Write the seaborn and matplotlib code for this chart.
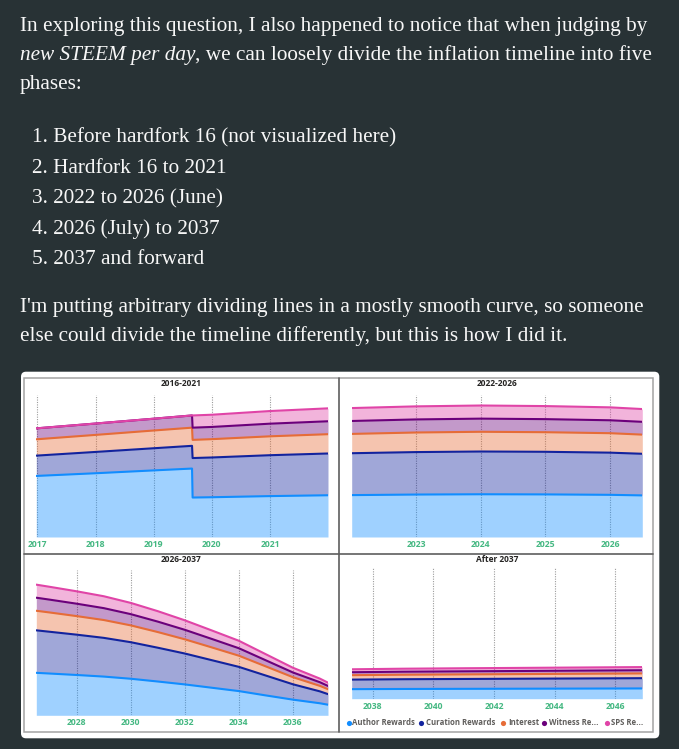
import numpy as np
import pandas as pd
import seaborn as sns
import matplotlib.pyplot as plt
from matplotlib.patches import FancyBboxPatch, Rectangle

sns.set_theme(style="white")
plt.rcParams['font.family'] = ['Open Sans', 'DejaVu Sans']

# ---- data (new STEEM per day, relative units) ----
series_names = ['Author Rewards', 'Curation Rewards', 'Interest', 'Witness Rewards', 'SPS Rewards']
legend_labels = ['Author Rewards', 'Curation Rewards', 'Interest', 'Witness Re...', 'SPS Re...']
line_colors = ['#118DFF', '#12239E', '#E66C37', '#6B007B', '#E044A7']

# 2016-2021 (HF21 step in Aug 2019)
years_a = [2016.98, 2018.0, 2019.0, 2019.66, 2019.67, 2020.0, 2021.0, 2022.0]
author_a = [43.0, 44.9, 46.9, 48.2, 27.8, 28.0, 28.8, 29.4]
curation_a = [14.3, 15.0, 15.6, 16.0, 27.8, 28.0, 28.8, 29.4]
interest_a = [11.5, 12.0, 12.5, 12.8, 12.8, 12.9, 13.3, 13.6]
witness_a = [7.7, 8.0, 8.3, 8.6, 8.6, 8.6, 8.9, 9.1]
sps_a = [0.0, 0.0, 0.0, 0.0, 8.6, 8.6, 8.9, 9.1]

# 2022-2026
years_b = [2022.0, 2023.0, 2024.0, 2025.0, 2026.0, 2026.5]
author_b = [29.5, 29.9, 30.1, 30.0, 29.7, 29.3]
curation_b = [29.5, 29.9, 30.1, 30.0, 29.7, 29.3]
interest_b = [13.6, 13.8, 13.9, 13.8, 13.7, 13.5]
witness_b = [9.1, 9.2, 9.25, 9.2, 9.1, 9.0]
sps_b = [9.1, 9.2, 9.25, 9.2, 9.1, 9.0]

# 2026-2037
years_c = [2026.5, 2027, 2028, 2029, 2030, 2031, 2032, 2033, 2034, 2035, 2036, 2037, 2037.3]
author_c = [29.3, 28.8, 27.8, 26.7, 25.2, 23.3, 21.3, 19.0, 16.7, 13.7, 10.8, 8.3, 7.3]
curation_c = [29.3, 28.8, 27.8, 26.7, 25.2, 23.3, 21.3, 19.0, 16.7, 13.7, 10.6, 8.2, 7.3]
interest_c = [13.5, 13.3, 12.8, 12.3, 11.6, 10.8, 9.8, 8.8, 7.7, 6.3, 4.9, 3.8, 3.4]
witness_c = [9.0, 8.85, 8.55, 8.2, 7.75, 7.2, 6.55, 5.85, 5.15, 4.2, 3.25, 2.5, 2.25]
sps_c = [9.0, 8.85, 8.55, 8.2, 7.75, 7.2, 6.55, 5.85, 5.15, 4.2, 3.25, 2.5, 2.25]

# After 2037
years_d = [2037.3, 2039, 2041, 2043, 2045, 2046.9]
author_d = [7.3, 7.45, 7.55, 7.65, 7.75, 7.85]
curation_d = [7.3, 7.45, 7.55, 7.65, 7.75, 7.85]
interest_d = [3.4, 3.45, 3.5, 3.55, 3.6, 3.65]
witness_d = [2.25, 2.3, 2.35, 2.37, 2.4, 2.42]
sps_d = [2.25, 2.3, 2.35, 2.37, 2.4, 2.42]

ticks_a = [2017, 2018, 2019, 2020, 2021]
ticks_b = [2023, 2024, 2025, 2026]
ticks_c = [2028, 2030, 2032, 2034, 2036]
ticks_d = [2038, 2040, 2042, 2044, 2046]

# ---- figure ----
W, H = 679, 749
BG = '#283235'
fig = plt.figure(figsize=(W / 100, H / 100), dpi=100)
fig.patch.set_facecolor(BG)

bg = fig.add_axes([0, 0, 1, 1], zorder=0)
bg.set_xlim(0, W)
bg.set_ylim(H, 0)
bg.axis('off')

# blog text
txt_kw = dict(color='#f7f7f7', va='baseline', ha='left', family='Liberation Serif')
renderer = fig.canvas.get_renderer()
probe = bg.text(19.5, 30.5, "In exploring this question, I also happened to notice that when judging by",
                fontsize=14, **txt_kw)
fs = 14 * 629 / probe.get_window_extent(renderer).width
probe.set_fontsize(fs)

ital = bg.text(19.5, 60, "new STEEM per day", fontsize=fs, style='italic', **txt_kw)
iw = ital.get_window_extent(renderer).width
bg.text(19.5 + iw, 60, ", we can loosely divide the inflation timeline into five", fontsize=fs, **txt_kw)
bg.text(19.5, 89.5, "phases:", fontsize=fs, **txt_kw)

items = ["1. Before hardfork 16 (not visualized here)",
         "2. Hardfork 16 to 2021",
         "3. 2022 to 2026 (June)",
         "4. 2026 (July) to 2037",
         "5. 2037 and forward"]
for item, yb in zip(items, [142.7, 172.9, 203.3, 234.0, 264.2]):
    bg.text(32.5, yb, item, fontsize=fs, **txt_kw)

bg.text(19.5, 311.7, "I'm putting arbitrary dividing lines in a mostly smooth curve, so someone",
        fontsize=fs, **txt_kw)
bg.text(19.5, 340.5, "else could divide the timeline differently, but this is how I did it.",
        fontsize=fs, **txt_kw)

# white card behind the chart
bg.add_patch(FancyBboxPatch((21, 371.7), 638.3, 366.6, boxstyle='round,pad=0,rounding_size=5',
                            fc='white', ec='none'))


def px_axes(x0, y0, x1, y1):
    return fig.add_axes([x0 / W, 1 - y1 / H, (x1 - x0) / W, (y1 - y0) / H], zorder=1)


def draw_panel(ax, years, layers, ticks):
    layers = np.array(layers, dtype=float)
    tops = np.cumsum(layers, axis=0)
    ax.stackplot(years, layers, colors=line_colors, alpha=0.4, linewidth=0)
    df = pd.DataFrame({
        'year': np.tile(years, len(series_names)),
        'top': tops.ravel(),
        'series': np.repeat(series_names, len(years)),
    })
    sns.lineplot(data=df, x='year', y='top', hue='series', hue_order=series_names,
                 palette=dict(zip(series_names, line_colors)), estimator=None,
                 linewidth=1.5, legend=False, ax=ax)
    ax.set_xlim(years[0], years[-1])
    ax.set_ylim(0, 100)
    ax.set_facecolor('white')
    ax.set_yticks([])
    ax.set_xticks(ticks)
    ax.set_xticklabels([str(t) for t in ticks], color='#45b882', fontsize=6.2, fontweight='bold')
    ax.tick_params(axis='x', length=0, pad=2.3)
    ax.set_xlabel('')
    ax.set_ylabel('')
    ax.grid(True, axis='x', color='#9c9c9c', linestyle=(0, (1, 1.2)), linewidth=0.8)
    ax.set_axisbelow(True)
    for s in ax.spines.values():
        s.set_visible(False)


ax_a = px_axes(36.3, 395, 328, 537)
draw_panel(ax_a, years_a, [author_a, curation_a, interest_a, witness_a, sps_a], ticks_a)
ax_b = px_axes(351.7, 395, 642.3, 537)
draw_panel(ax_b, years_b, [author_b, curation_b, interest_b, witness_b, sps_b], ticks_b)
ax_c = px_axes(36.3, 570.3, 328, 715.3)
draw_panel(ax_c, years_c, [author_c, curation_c, interest_c, witness_c, sps_c], ticks_c)
ax_d = px_axes(351.7, 568, 642.3, 698.7)
draw_panel(ax_d, years_d, [author_d, curation_d, interest_d, witness_d, sps_d], ticks_d)

# overlay: borders, panel titles, legend
ov = fig.add_axes([0, 0, 1, 1], zorder=3)
ov.set_xlim(0, W)
ov.set_ylim(H, 0)
ov.axis('off')
ov.patch.set_alpha(0)

ov.add_patch(Rectangle((24, 377.7), 629.3, 354, fill=False, ec='#a3a3a3', lw=1.1))
ov.plot([339, 339], [377.7, 731.7], color='#5e5e5e', lw=1.2)
ov.plot([24, 653.3], [554, 554], color='#5e5e5e', lw=1.2)

for (tx, ty, label) in [(181.3, 383.7, '2016-2021'), (496.7, 383.7, '2022-2026'),
                        (181.3, 559.3, '2026-2037'), (496.7, 559.3, 'After 2037')]:
    ov.text(tx, ty, label, ha='center', va='center', fontsize=6, fontweight='bold', color='#252423')

dot_x = [348.7, 421.3, 503.3, 544.0, 606.7]
text_x = [352.5, 426.5, 508.3, 549.0, 610.7]
for dx, tx, lab, col in zip(dot_x, text_x, legend_labels, line_colors):
    ov.scatter([dx], [722.7], s=14, color=col, linewidths=0)
    ov.text(tx, 722.7, lab, ha='left', va='center', fontsize=5.6, fontweight='bold', color='#605e5c')

plt.savefig('out.png', dpi=100, facecolor=BG)
